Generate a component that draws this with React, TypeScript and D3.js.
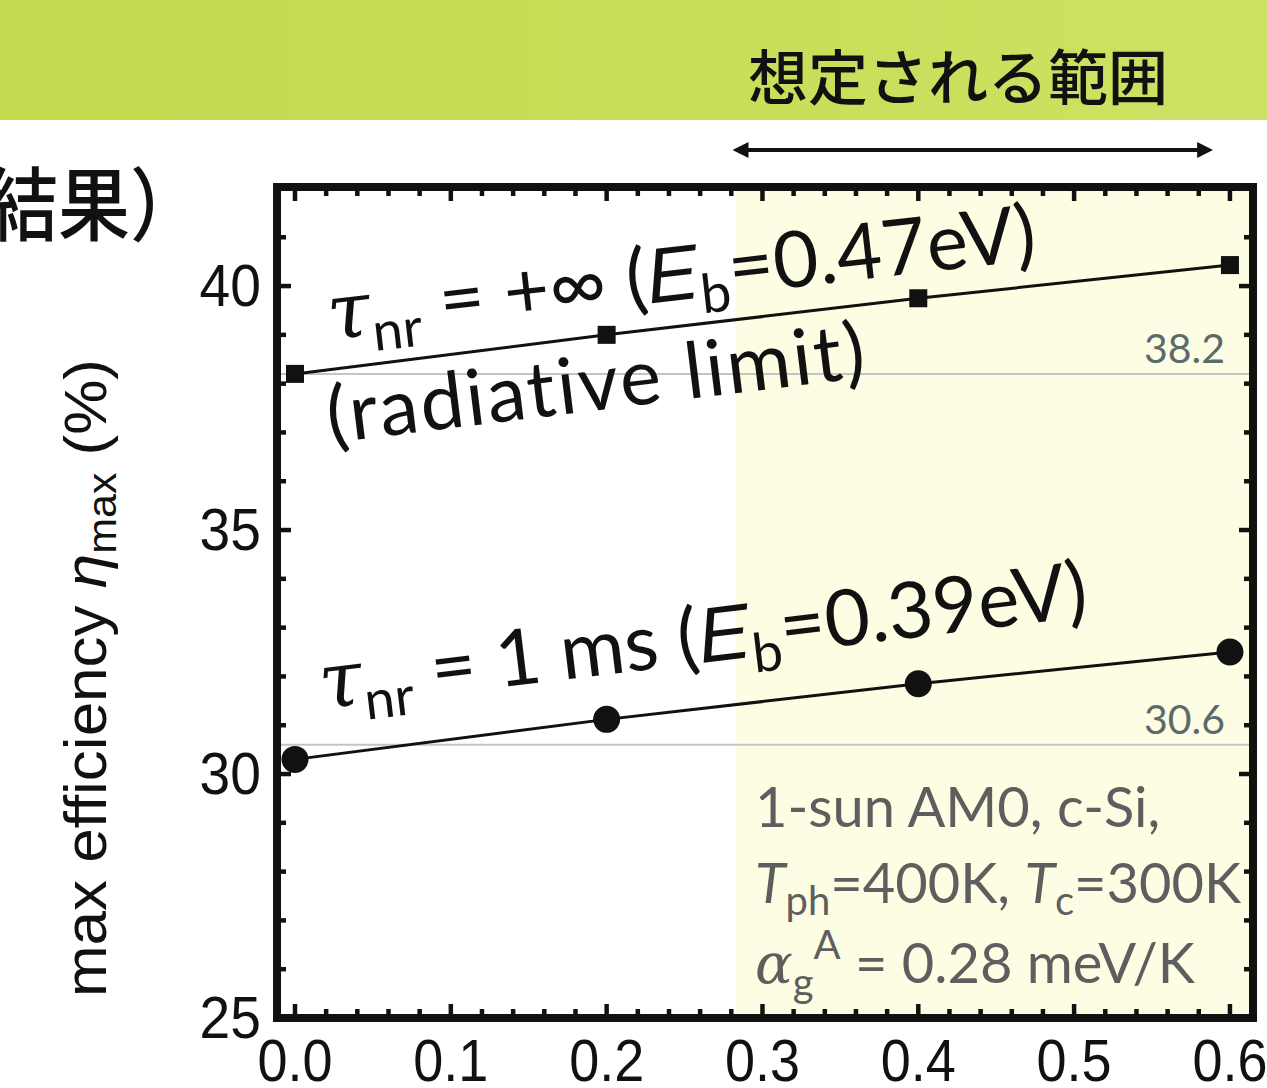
import * as d3 from 'd3';
import React from 'react';

// values
const xValues = [0.0, 0.2, 0.4, 0.6];
const radiativeLimit = [38.2, 39.0, 39.75, 40.43];
const oneMs = [30.3, 31.12, 31.85, 32.5];
const refLevels = [38.2, 30.6];
const xTickLabels = [0.0, 0.1, 0.2, 0.3, 0.4, 0.5, 0.6];
const yTickLabels = [25, 30, 35, 40];
const expectedRange = [0.28, 0.59]; // 想定される範囲 (arrow)
const shadeStart = 0.283;

const W = 1267;
const H = 1088;
const frame = { left: 277, right: 1253, top: 187, bottom: 1018 };

const CHART_FONT = "'Liberation Sans', Arial, sans-serif";
const NOTE_FONT = "Lato, 'Open Sans', sans-serif";
const CJK_FONT = "'Noto Sans CJK JP', sans-serif";

const App = () => {
  const x = d3.scaleLinear().domain([-0.01155, 0.6148]).range([frame.left, frame.right]);
  const y = d3.scaleLinear().domain([25, 42.03]).range([frame.bottom, frame.top]);

  const line = d3
    .line<[number, number]>()
    .x((d) => x(d[0]))
    .y((d) => y(d[1]));

  const radPts = xValues.map((v, i) => [v, radiativeLimit[i]] as [number, number]);
  const msPts = xValues.map((v, i) => [v, oneMs[i]] as [number, number]);

  // inward ticks on all four sides
  const xMinor = d3.range(0, 31).map((i) => ({ v: i * 0.02, major: i % 5 === 0 }));
  const yMinor = d3.range(26, 42).map((v) => ({ v, major: v % 5 === 0 }));
  const majLen = 14;
  const minLen = 9;

  return (
    <svg width={W} height={H} style={{ position: 'absolute', left: 0, top: 0, background: 'white' }}>
      <defs>
        <linearGradient id="band" x1="0" x2="1" y1="0" y2="0">
          <stop offset="0" stopColor="#c4d94d" />
          <stop offset="1" stopColor="#cee163" />
        </linearGradient>
        <marker id="ah" viewBox="0 0 10 10" refX="7" refY="5" markerWidth="4" markerHeight="4" orient="auto-start-reverse">
          <path d="M0,0 L10,5 L0,10 z" fill="#111" />
        </marker>
      </defs>

      {/* header band */}
      <rect x={0} y={0} width={W} height={120} fill="url(#band)" />
      <text x={748} y={100} fontFamily={CJK_FONT} fontWeight={500} fontSize={60} fill="#111">
        想定される範囲
      </text>
      <line
        x1={x(expectedRange[0]) + 6}
        x2={x(expectedRange[1]) - 6}
        y1={150}
        y2={150}
        stroke="#111"
        strokeWidth={4}
        markerStart="url(#ah)"
        markerEnd="url(#ah)"
      />
      <text transform="translate(-14,234) scale(0.9,1)" fontFamily={CJK_FONT} fontWeight={500} fontSize={80} fill="#111">
        結果）
      </text>

      {/* shaded expected range */}
      <rect
        x={x(shadeStart)}
        y={frame.top}
        width={frame.right - x(shadeStart)}
        height={frame.bottom - frame.top}
        fill="#fdfde4"
      />

      {/* reference levels */}
      {refLevels.map((r) => (
        <g key={r}>
          <line x1={frame.left} x2={frame.right} y1={y(r)} y2={y(r)} stroke="#c4c4c4" strokeWidth={2} />
          <text
            x={1225}
            y={y(r) - 11}
            textAnchor="end"
            fontFamily={NOTE_FONT}
            fontSize={41}
            fill="#5b6a6a"
          >
            {r.toFixed(1)}
          </text>
        </g>
      ))}

      {/* series */}
      <path d={line(radPts) ?? ''} fill="none" stroke="#111" strokeWidth={3} />
      <path d={line(msPts) ?? ''} fill="none" stroke="#111" strokeWidth={3} />
      {radPts.map((d, i) => (
        <rect key={'s' + i} x={x(d[0]) - 9} y={y(d[1]) - 9} width={18} height={18} fill="#111" />
      ))}
      {msPts.map((d, i) => (
        <circle key={'c' + i} cx={x(d[0])} cy={y(d[1])} r={13.5} fill="#111" />
      ))}

      {/* series labels */}
      <text transform="translate(330,340) rotate(-6.5)" fontFamily={NOTE_FONT} fontSize={78} fill="#111">
        <tspan fontFamily="'DejaVu Serif', serif" fontStyle="italic">τ</tspan>
        <tspan fontSize={54} dy={16}>nr</tspan>
        <tspan dy={-16}>{' = +∞ ('}</tspan>
        <tspan fontFamily="'Liberation Sans', sans-serif" fontStyle="italic">E</tspan>
        <tspan fontSize={54} dy={16}>b</tspan>
        <tspan dy={-16}>=0.47eV)</tspan>
      </text>
      <text
        transform="translate(330,443) rotate(-7)"
        fontFamily={NOTE_FONT}
        fontSize={78}
        letterSpacing={2.4}
        fill="#111"
      >
        (radiative limit)
      </text>
      <text transform="translate(322,709) rotate(-6.9)" fontFamily={NOTE_FONT} fontSize={78} fill="#111">
        <tspan fontFamily="'DejaVu Serif', serif" fontStyle="italic">τ</tspan>
        <tspan fontSize={54} dy={16}>nr</tspan>
        <tspan dy={-16}>{' = 1 ms ('}</tspan>
        <tspan fontFamily="'Liberation Sans', sans-serif" fontStyle="italic">E</tspan>
        <tspan fontSize={54} dy={16}>b</tspan>
        <tspan dy={-16}>=0.39eV)</tspan>
      </text>

      {/* conditions note */}
      <g fontFamily={NOTE_FONT} fontSize={56} fill="#5e5e5e">
        <text x={755} y={827}>1-sun AM0, c-Si,</text>
        <text x={755} y={903}>
          <tspan fontStyle="italic">T</tspan>
          <tspan fontSize={40} dy={12}>ph</tspan>
          <tspan dy={-12}>{'=400K, '}</tspan>
          <tspan fontStyle="italic">T</tspan>
          <tspan fontSize={40} dy={12}>c</tspan>
          <tspan dy={-12}>=300K</tspan>
        </text>
        <text x={755} y={983}>
          <tspan fontFamily="'DejaVu Serif', serif" fontStyle="italic">α</tspan>
          <tspan fontSize={40} dy={14}>g</tspan>
          <tspan fontSize={40} dy={-38}>A</tspan>
          <tspan dy={24}>{' = 0.28 meV/K'}</tspan>
        </text>
      </g>

      {/* frame and ticks */}
      <g stroke="#111" strokeWidth={4.5}>
        {xMinor.map((t) => {
          const len = t.major ? majLen : minLen;
          return (
            <g key={'x' + t.v}>
              <line x1={x(t.v)} x2={x(t.v)} y1={frame.bottom} y2={frame.bottom - len} />
              <line x1={x(t.v)} x2={x(t.v)} y1={frame.top} y2={frame.top + len} />
            </g>
          );
        })}
        {yMinor.map((t) => {
          const len = t.major ? majLen : minLen;
          return (
            <g key={'y' + t.v}>
              <line x1={frame.left} x2={frame.left + len} y1={y(t.v)} y2={y(t.v)} />
              <line x1={frame.right} x2={frame.right - len} y1={y(t.v)} y2={y(t.v)} />
            </g>
          );
        })}
      </g>
      <rect
        x={frame.left}
        y={frame.top}
        width={frame.right - frame.left}
        height={frame.bottom - frame.top}
        fill="none"
        stroke="#111"
        strokeWidth={8}
      />

      {/* tick labels */}
      <g fontFamily={CHART_FONT} fontSize={60} fill="#111">
        {xTickLabels.map((v) => (
          <text key={'xl' + v} transform={`translate(${x(v)},1081) scale(0.9,1)`} textAnchor="middle">
            {v.toFixed(1)}
          </text>
        ))}
        {yTickLabels.map((v) => (
          <text key={'yl' + v} transform={`translate(261,${y(v) + 20}) scale(0.92,1)`} textAnchor="end">
            {v}
          </text>
        ))}
      </g>

      {/* y axis title */}
      <text
        transform="translate(106,678) rotate(-90) scale(1,0.95)"
        textAnchor="middle"
        fontFamily={CHART_FONT}
        fontSize={62}
        fill="#111"
      >
        max efficiency{' '}
        <tspan fontStyle="italic">η</tspan>
        <tspan fontSize={43} dy={10}>max</tspan>
        <tspan dy={-10}>{' (%)'}</tspan>
      </text>
    </svg>
  );
};

export default App;
